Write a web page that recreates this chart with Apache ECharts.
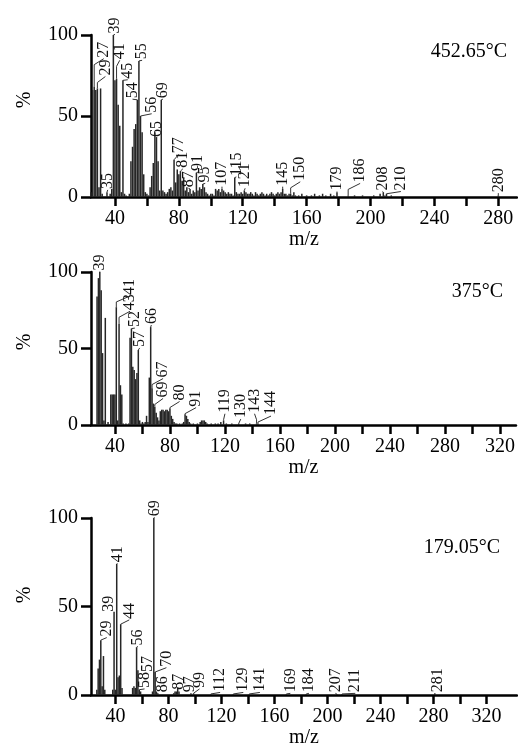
<!DOCTYPE html>
<html><head><meta charset="utf-8">
<script src="https://cdn.jsdelivr.net/npm/echarts@6/dist/echarts.min.js"></script>
<style>html,body{margin:0;padding:0;background:#fff}#c{width:518px;height:749px}</style>
</head><body><div id="c"></div>
<script>
// ---------- Panel 1: 452.65°C ----------
const temp1 = '452.65°C';
const mz1 = [25,26,27,28,29,30,31,32,35,37,38,39,40,41,42,43,44,45,46,47,49,50,51,52,53,54,55,56,57,58,59,60,61,62,63,64,65,66,67,68,69,70,71,72,73,74,75,76,77,78,79,80,81,82,83,84,85,86,87,88,89,90,91,92,93,94,95,96,97,98,99,100,101,102,103,104,105,106,107,108,109,110,111,112,113,114,115,116,117,118,119,120,121,122,123,124,125,126,127,128,129,130,131,132,133,134,135,136,137,138,139,140,141,142,143,144,145,146,147,148,149,150,151,152,153,155,157,160,163,165,168,170,172,175,177,179,186,190,195,202,206,208,209,210,213,280];
const int1 = [3,66,68,66,67,6,67,2,3,2,5,100,72,73,57,44,3,72,2,1,2,22,31,42,45,60,84,50,40,14,3,2,1,6,13,21,40,37,22,4,60,4,3,2,3,5,6,4,23,9,17,14,16,10,12,4,6,3,5,2,4,3,15,4,6,5,8,6,3,2,1,2,2,1,5,4,5,3,5,4,3,2,3,2,2,1,12,3,2,2,3,2,4,3,2,2,3,2,1,3,2,1,2,3,2,1,2,1,2,3,2,1,2,3,2,3,5,2,2,1,2,2,1,3,1,1,2,1,1,2,1,2,1,2,1,3,1,1,1,1,2,3,1,2,1,1];
const ann1Peak = [27,29,35,39,41,45,54,55,56,65,69,77,81,87,91,95,107,115,121,145,150,179,186,208,210,280];
const ann1Text = ['27','29','35','39','41','45','54','55','56','65','69','77','81','87','91','95','107','115','121','145','150','179','186','208','210','280'];
const ann1LabelMz = [33,34,35.5,40,43,48,51,57,63,66.5,70,80,82.5,86,92,96.5,107,116,121.5,145,156,179,193.5,207.5,219,280];
const ann1LabelPct = [86,75,5,101,85,73,61,85,52,37,61,27,18,6,16,9,7,13,6,7,10,4,9,4,4,3];

// ---------- Panel 2: 375°C ----------
const temp2 = '375°C';
const mz2 = [27,28,29,30,31,32,33,35,37,38,39,40,41,42,43,44,45,46,48,50,51,52,53,54,55,56,57,58,59,60,61,62,63,64,65,66,67,68,69,70,71,72,73,74,75,76,77,78,79,80,81,82,83,84,85,87,89,90,91,92,93,94,95,97,100,102,103,104,105,106,107,110,113,115,117,119,121,125,130,135,138,143,144];
const int2 = [84,96,100,88,47,3,70,2,20,20,20,20,77,3,66,26,20,1,1,1,57,63,38,36,30,34,49,3,1,2,1,2,6,2,31,64,24,14,12,8,5,3,9,10,10,9,10,10,9,11,6,4,2,1,1,1,1,2,7,6,4,2,1,1,1,2,3,3,3,2,1,1,1,1,2,3,1,1,1,1,1,1,1];
const ann2Peak = [29,41,43,52,57,66,67,69,80,91,119,130,143,144];
const ann2Text = ['39','41','43','52','57','66','67','69','80','91','119','130','143','144'];
const ann2LabelMz = [29,51,51,54.5,58,66.5,75,75,87,99,120,131.5,141.5,153.5];
const ann2LabelPct = [101,85,75,64,51,66,31,18,16,12,8,4.5,8,6.5];

// ---------- Panel 3: 179.05°C ----------
const temp3 = '179.05°C';
const mz3 = [26,27,28,29,30,31,32,38,39,40,41,42,43,44,45,53,54,55,56,57,58,59,68,69,70,71,72,84,85,86,87,88,97,99,112,129,141,169,184,207,211,281];
const int3 = [3,15,20,31,5,22,3,3,47,3,74,10,11,40,4,4,5,4,27,14,3,2,2,100,13,2,1,1,2,2,4,2,1,1,0.6,0.6,0.6,0.6,0.6,0.6,0.6,1];
const ann3Peak = [29,39,41,44,56,57,58,69,70,86,87,97,99,112,129,141,169,184,207,211,281];
const ann3Text = ['29','39','41','44','56','57','58','69','70','86','87','97','99','112','129','141','169','184','207','211','281'];
const ann3LabelMz = [33.5,35,41.5,50.5,57,64.5,62,69.5,78.5,76,88,96,103.5,119,136.5,149,172,186,206,221,283];
const ann3LabelPct = [33,47,75,43,28,13,4,101,16,1.5,3,1.5,4,2,2,2,1.5,1.5,1.5,1.5,1.5];

// x-axis ticks/labels
const xTicks = [40,60,80,100,120,140,160,180,200,220,240,260,280,300,320];
const xLabels = [40,80,120,160,200,240,280,320];

const SERIF = '"Liberation Serif", "Times New Roman", serif';
const chart = echarts.init(document.getElementById('c'), null, {renderer: 'canvas'});

const panels = [
  {mz: mz1, it: int1, peak: ann1Peak, text: ann1Text, lmz: ann1LabelMz, lpct: ann1LabelPct, temp: temp1,
   top: 35, height: 162, min: 25, max: 291.7, nameGap: 30, tempX: 507, tempY: 52, pctY: 100},
  {mz: mz2, it: int2, peak: ann2Peak, text: ann2Text, lmz: ann2LabelMz, lpct: ann2LabelPct, temp: temp2,
   top: 272, height: 153, min: 22.6, max: 331.6, nameGap: 30, tempX: 503, tempY: 292, pctY: 342},
  {mz: mz3, it: int3, peak: ann3Peak, text: ann3Text, lmz: ann3LabelMz, lpct: ann3LabelPct, temp: temp3,
   top: 518, height: 179, min: 21.6, max: 343, nameGap: 33, tempX: 500, tempY: 548, pctY: 595}
];

const grid = [], xAxis = [], yAxis = [], series = [], graphic = [];
panels.forEach((p, i) => {
  grid.push({left: 91, right: 1, top: p.top, height: p.height, containLabel: false});
  xAxis.push({
    type: 'value', gridIndex: i, min: p.min, max: p.max,
    name: 'm/z', nameLocation: 'middle', nameGap: p.nameGap,
    nameTextStyle: {fontFamily: SERIF, fontSize: 20, color: '#000'},
    axisLine: {show: true, onZero: false, lineStyle: {color: '#000', width: 2.5}},
    axisTick: {show: true, inside: false, length: 9, customValues: xTicks.filter(v => v <= p.max), lineStyle: {color: '#000', width: 2.5}},
    axisLabel: {show: true, customValues: xLabels.filter(v => v <= p.max), fontFamily: SERIF, fontSize: 20, color: '#000', margin: 12},
    splitLine: {show: false}
  });
  yAxis.push({
    type: 'value', gridIndex: i, min: 0, max: 100, interval: 50,
    axisLine: {show: true, lineStyle: {color: '#000', width: 2.5}},
    axisTick: {show: true, inside: false, length: 10, lineStyle: {color: '#000', width: 2.5}},
    axisLabel: {fontFamily: SERIF, fontSize: 20, color: '#000', margin: 13},
    splitLine: {show: false}
  });
  series.push({
    type: 'bar', xAxisIndex: i, yAxisIndex: i, barWidth: 1.5, silent: true, animation: false,
    itemStyle: {color: '#262626'},
    data: p.mz.map((m, k) => [m, p.it[k]])
  });
  const annData = p.peak.map((m, k) => [m, p.it[p.mz.indexOf(m)], p.lmz[k], p.lpct[k]]);
  const texts = p.text;
  series.push({
    type: 'custom', xAxisIndex: i, yAxisIndex: i, clip: false, silent: true, animation: false,
    z: 5,
    data: annData,
    renderItem: function (params, api) {
      const pk = api.coord([api.value(0), api.value(1)]);
      const lb = api.coord([api.value(2), api.value(3)]);
      const children = [];
      const dy = pk[1] - lb[1];
      if (dy > 1.5) {
        const rise = Math.min(7, dy);
        children.push({type: 'polyline', shape: {points: [[pk[0], pk[1]], [pk[0], lb[1] + rise], [lb[0], lb[1] + 1]]},
          style: {stroke: '#333', lineWidth: 1, fill: null}});
      }
      children.push({type: 'text', x: lb[0], y: lb[1], rotation: Math.PI / 2,
        style: {text: texts[params.dataIndex], x: 0, y: 0, align: 'left', verticalAlign: 'middle',
          font: '16px ' + SERIF, fill: '#111'}});
      return {type: 'group', children: children};
    }
  });
  graphic.push({type: 'text', x: p.tempX, y: p.tempY, silent: true,
    style: {text: p.temp, align: 'right', verticalAlign: 'middle', font: '20px ' + SERIF, fill: '#000'}});
  graphic.push({type: 'text', x: 25, y: p.pctY, rotation: Math.PI / 2, silent: true,
    style: {text: '%', align: 'center', verticalAlign: 'middle', font: '20px ' + SERIF, fill: '#000'}});
});

chart.setOption({animation: false, backgroundColor: '#fff', grid, xAxis, yAxis, series, graphic});
</script>
</body></html>
